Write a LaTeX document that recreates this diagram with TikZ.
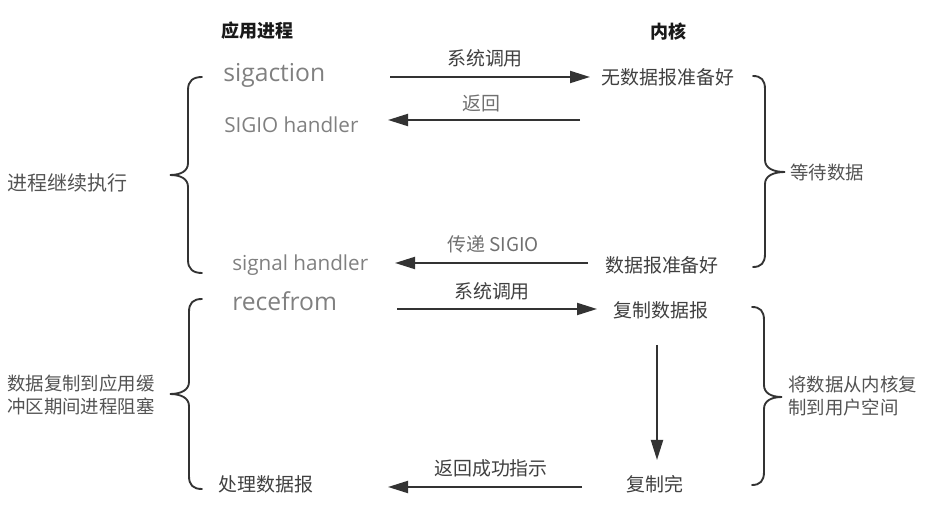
\documentclass[tikz,border=0pt]{standalone}
\usepackage{fontspec}
\setmainfont{Open Sans}
\newfontfamily\cjk{Noto Sans CJK SC}
\usetikzlibrary{arrows.meta}

\definecolor{callgray}{RGB}{128,128,128}
\definecolor{lblgray}{RGB}{112,112,112}
\definecolor{dark}{RGB}{64,64,64}
\definecolor{linegray}{RGB}{51,51,51}

\tikzset{
  head/.style={inner sep=0pt, color=black!90, font=\cjk\bfseries\fontsize{13.5}{16}\selectfont},
  bigcall/.style={inner sep=0pt, anchor=base west, color=callgray, font=\fontsize{18.5}{22}\selectfont},
  call/.style={inner sep=0pt, anchor=base west, color=callgray, font=\fontsize{15.5}{19}\selectfont},
  kern/.style={inner sep=0pt, color=dark, font=\cjk\fontsize{14.2}{17}\selectfont},
  lbl/.style={inner sep=0pt, color=dark, font=\cjk\fontsize{14.2}{17}\selectfont},
  lbllight/.style={lbl, color=lblgray},
  side/.style={inner sep=0pt, anchor=west, color=dark!90, align=left, font=\cjk\fontsize{13.8}{17}\selectfont},
  arr/.style={draw=linegray, line width=1.5pt, -{Triangle[length=15pt,width=9pt]}},
  brc/.style={draw=linegray, line width=1.4pt, line cap=round}
}

\begin{document}
\begin{tikzpicture}[x=0.75pt,y=0.75pt,yscale=-1,xscale=1]
\useasboundingbox (0,0) rectangle (925,530);

% headers
\draw (257,31) node [head] (app) {应用进程};
\draw (668,32) node [head] (kernel) {内核};

% application side
\draw (223,82) node [bigcall] (sig) {sigaction};
\draw (224,133) node [call] (sigio) {SIGIO handler};
\draw (232,271) node [call] (sighand) {signal handler};
\draw (232,311) node [bigcall] (recv) {recefrom};
\draw (266,484) node [kern] (proc) {处理数据报};

% kernel side
\draw (668,77) node [kern] (nodata) {无数据报准备好};
\draw (662,265) node [kern] (ready) {数据报准备好};
\draw (661,310) node [kern] (copy) {复制数据报};
\draw (655,484) node [kern] (done) {复制完};

% arrow ends
\coordinate (a1s) at (390,77);  \coordinate (a1e) at (590,77);
\coordinate (a2s) at (580,120); \coordinate (a2e) at (388,120);
\coordinate (a3s) at (588,263); \coordinate (a3e) at (395,263);
\coordinate (a4s) at (397,309); \coordinate (a4e) at (597,309);
\coordinate (a5s) at (582,487); \coordinate (a5e) at (388,487);
\coordinate (v1s) at (657,345); \coordinate (v1e) at (657,460);

\draw [arr] (a1s) -- (a1e);
\draw [arr] (a2s) -- (a2e);
\draw [arr] (a3s) -- (a3e);
\draw [arr] (a4s) -- (a4e);
\draw [arr] (a5s) -- (a5e);
\draw [arr] (v1s) -- (v1e);

% arrow labels
\draw (485,58) node [lbl] (l1) {系统调用};
\draw (481,103) node [lbllight] (l2) {返回};
\draw (493,244) node [lbllight] (l3) {传递 SIGIO};
\draw (492,291) node [lbl] (l4) {系统调用};
\draw (491,468) node [lbl] (l5) {返回成功指示};

% braces
\draw [brc] (202,77) .. controls (193,77) and (188,81) .. (188,90) -- (188,163) .. controls (188,171) and (181,175) .. (170,175) .. controls (181,175) and (188,179) .. (188,187) -- (188,260) .. controls (188,269) and (193,273) .. (202,273);
\draw [brc] (202,299) .. controls (193,299) and (189,303) .. (189,312) -- (189,382) .. controls (189,390) and (181,394) .. (170,394) .. controls (181,394) and (189,398) .. (189,406) -- (189,476) .. controls (189,485) and (193,489) .. (202,489);
\draw [brc] (753,76) .. controls (761,76) and (765,80) .. (765,89) -- (765,160) .. controls (765,168) and (773,172) .. (785,172) .. controls (773,172) and (765,176) .. (765,184) -- (765,254) .. controls (765,263) and (761,267) .. (753,267);
\draw [brc] (752,307) .. controls (760,307) and (764,311) .. (764,320) -- (764,385) .. controls (764,393) and (771,397) .. (782,397) .. controls (771,397) and (764,401) .. (764,409) -- (764,472) .. controls (764,481) and (760,485) .. (752,485);

% brace labels
\draw (7,183) node [side, font=\cjk\fontsize{15}{18}\selectfont] (cont) {进程继续执行};
\draw (7,395) node [side] (block) {数据复制到应用缓\\冲区期间进程阻塞};
\draw (790,172) node [side] (wait) {等待数据};
\draw (788,396) node [side] (kcopy) {将数据从内核复\\制到用户空间};

\end{tikzpicture}
\end{document}
